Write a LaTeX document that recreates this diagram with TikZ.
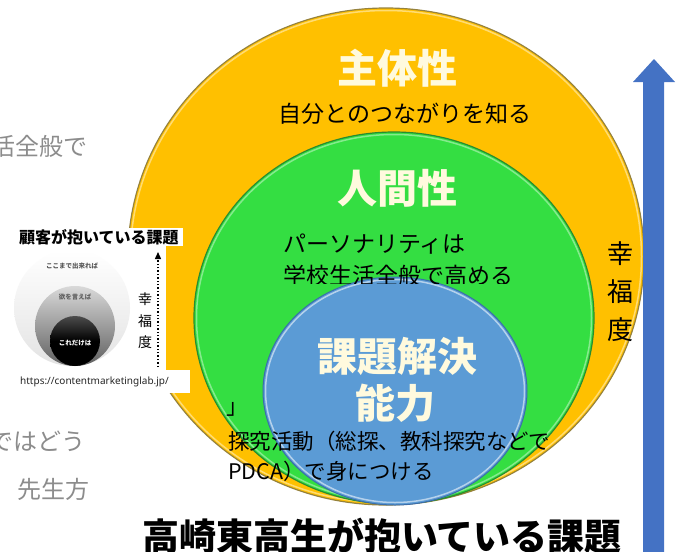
\documentclass[tikz,border=0pt]{standalone}
\usepackage{fontspec}
\setmainfont{Noto Sans CJK JP}
\newfontfamily\urlfont{Noto Sans}
\usetikzlibrary{arrows.meta,shadings}
\definecolor{gold}{RGB}{255,192,0}
\definecolor{goldline}{RGB}{150,130,60}
\definecolor{grn}{RGB}{52,222,66}
\definecolor{grnline}{RGB}{40,140,50}
\definecolor{blu}{RGB}{91,155,213}
\definecolor{bluline}{RGB}{60,110,170}
\definecolor{arrowblue}{RGB}{68,114,196}
\definecolor{fadetxt}{RGB}{140,140,140}
\definecolor{cream}{RGB}{255,250,222}
\tikzset{
  fadetext/.style={text=fadetxt, font=\fontsize{24}{28}\selectfont, inner sep=0pt},
  bigtitle/.style={text=cream, font=\fontsize{40}{46}\selectfont\bfseries, inner sep=0pt},
  bodytext/.style={text=black, font=\fontsize{23}{31}\selectfont, inner sep=0pt},
  smalltext/.style={text=black, font=\fontsize{21.5}{29}\selectfont, inner sep=0pt},
  insettext/.style={font=\fontsize{6.5}{8}\selectfont\bfseries, inner sep=0pt}
}
\begin{document}
\begin{tikzpicture}[x=1pt,y=-1pt]
\useasboundingbox (0,0) rectangle (678,552);
\clip (0,0) rectangle (678,552);
% faded background texts
\node[fadetext, anchor=east] (f1) at (88,146) {活全般で};
\node[fadetext, anchor=east] (f2) at (86,441) {ではどう};
\node[fadetext, anchor=east] (f3) at (90,489) {先生方};
% circles
\filldraw[fill=gold, draw=goldline, line width=1.2] (386,256.5) ellipse [x radius=258, y radius=248.5];
\draw[white, opacity=0.45, line width=1.5] (386,256.5) ellipse [x radius=255.5, y radius=246];
\filldraw[fill=grn, draw=grnline, line width=1.2] (394,318) ellipse [x radius=200, y radius=186];
\draw[white, opacity=0.4, line width=1.5] (394,318) ellipse [x radius=197.5, y radius=183.5];
\filldraw[fill=blu, draw=bluline, line width=1] (395,391) ellipse [x radius=132, y radius=114];
\draw[white, opacity=0.55, line width=1.5] (395,391) ellipse [x radius=129.5, y radius=111.5];
% circle titles
\node[bigtitle] (t1) at (397,68) {主体性};
\node[bigtitle] (t2) at (397,188) {人間性};
\node[bigtitle] (t3) at (397,356) {課題解決};
\node[bigtitle] (t4) at (395,403) {能力};
% body texts
\node[bodytext] (b1) at (405,114) {自分とのつながりを知る};
\node[bodytext, anchor=west] (b2) at (283,244) {パーソナリティは};
\begin{scope}
\clip (0,0) rectangle (678,283);
\node[bodytext, anchor=west] (b3) at (283,276) {学校生活全般で高める};
\end{scope}
\node[smalltext, anchor=west] (b4) at (226,409) {」};
\node[smalltext, anchor=west] (b5) at (228,441) {探究活動（総探、教科探究などで};
\node[smalltext, anchor=west] (b6) at (228,471) {PDCA）で身につける};
% right label
\node[text=black, font=\fontsize{26}{38}\selectfont, align=center, inner sep=0pt] (h1) at (620,292) {幸\\福\\度};
% bottom title
\node[text=black, font=\fontsize{37}{42}\selectfont\bfseries, inner sep=0pt] (bt) at (382,536) {高崎東高生が抱いている課題};
% blue arrow
\fill[arrowblue] (643,560) -- (643,82) -- (633,82) -- (654,59) -- (675,82) -- (664,82) -- (664,560) -- cycle;
% inset
\fill[white] (0,245) rectangle (166,372);
\fill[white] (14,228) rectangle (183,246);
\fill[white] (14,370) rectangle (190,393);
\shade[top color=white, bottom color=gray!22] (72,308) circle [radius=58];
\shade[top color=gray!30, bottom color=gray!75!black] (75,326) circle [radius=40];
\shade[top color=gray!60!black, bottom color=black, middle color=black] (75,341) circle [radius=25];
\node[insettext, text=gray!70!black] (i1) at (72,266) {ここまで出来れば};
\node[insettext, text=gray!75!black] (i2) at (75,297) {欲を言えば};
\node[insettext, text=white] (i3) at (75,343) {これだけは};
\node[text=black, font=\fontsize{16}{18}\selectfont\bfseries, inner sep=0pt, anchor=west] (it) at (19,237) {顧客が抱いている課題};
\coordinate (da) at (158,367);
\coordinate (db) at (158,252);
\draw[line width=1.4, dotted, -{Triangle[width=6pt,length=7pt]}] (da) -- (db);
\node[text=black, font=\fontsize{14}{21.5}\selectfont, align=center, inner sep=0pt] (ih) at (145,321) {幸\\福\\度};
\node[text=black!85, font=\urlfont\fontsize{10}{12}\selectfont, inner sep=0pt, anchor=west] (url) at (20,382) {https://contentmarketinglab.jp/};
\end{tikzpicture}
\end{document}
